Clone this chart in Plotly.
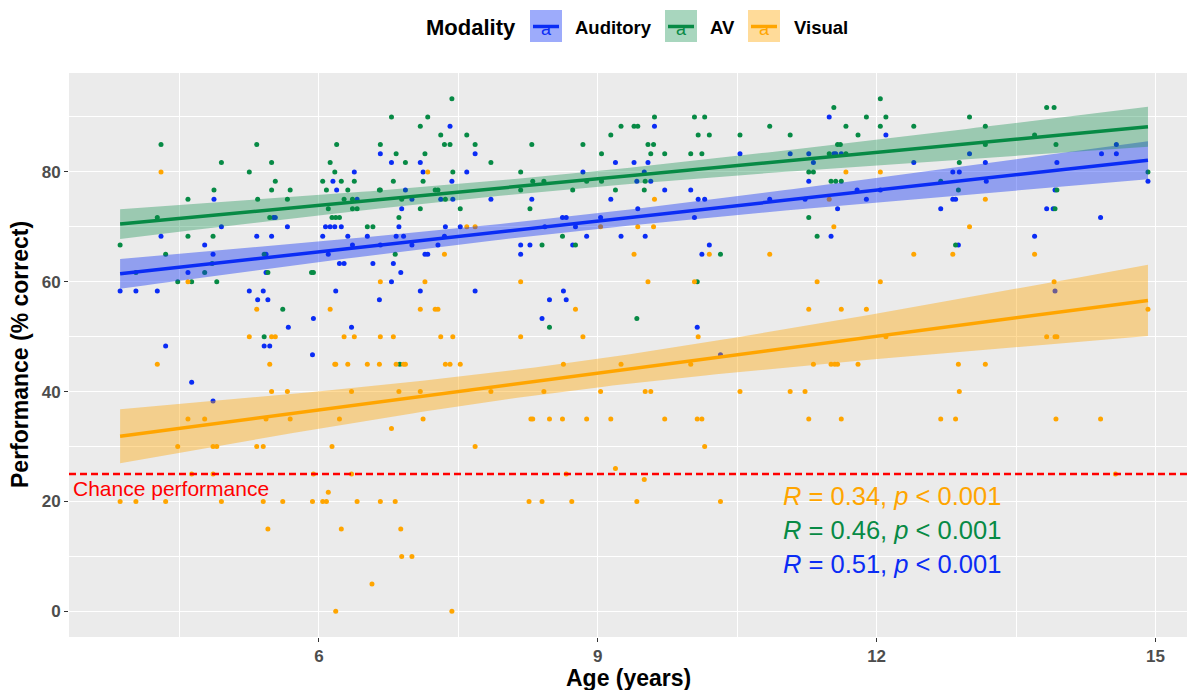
import numpy as np
import plotly.graph_objects as go

# ---------------- data ----------------
aud_age = [
    4.87, 5.51, 5.53, 4.95, 5.66, 4.30, 5.33, 5.49, 4.77, 4.86,
    5.43, 4.59, 5.43, 3.86, 4.03, 4.26, 5.25, 5.40, 5.34, 5.45,
    5.67, 4.35, 5.41, 5.47, 4.63, 4.86, 7.41, 6.66, 7.68, 6.78,
    7.09, 6.38, 7.12, 7.59, 6.15, 7.43, 6.19, 6.93, 6.41, 7.00,
    7.31, 7.44, 7.85, 6.89, 6.07, 6.12, 6.17, 6.24, 6.86, 7.36,
    7.52, 6.04, 6.31, 6.52, 6.83, 6.91, 7.35, 6.36, 6.66, 7.00,
    7.28, 6.10, 7.14, 7.17, 6.22, 6.27, 6.58, 6.80, 6.88, 6.78,
    6.18, 7.09, 7.68, 6.65, 5.94, 6.35, 5.93, 9.61, 9.19, 9.39,
    9.54, 8.84, 9.50, 9.42, 9.57, 9.72, 10.00, 8.29, 9.14, 10.08,
    10.15, 9.43, 8.62, 8.66, 9.03, 10.04, 8.43, 8.76, 8.88, 9.25,
    9.51, 8.17, 8.27, 8.73, 10.20, 8.17, 10.12, 8.63, 8.48, 8.66,
    8.40, 10.07, 10.32, 11.49, 12.10, 10.53, 11.07, 11.27, 11.54, 11.56,
    11.62, 11.32, 12.40, 11.27, 11.79, 12.04, 10.85, 11.23, 11.89, 11.58,
    12.69, 11.51, 14.58, 13.00, 14.42, 14.58, 13.17, 13.94, 12.82, 12.89,
    13.18, 14.92, 13.92, 12.82, 12.85, 13.83, 13.90, 14.41, 13.70, 12.88,
    13.92,
]
aud_score = [
    75, 71.7, 71.7, 70, 70, 68.3, 68.3, 68.3, 66.7, 65,
    65, 61.7, 61.7, 58.3, 58.3, 58.3, 58.3, 58.3, 56.7, 56.7,
    51.7, 48.3, 48.3, 48.3, 41.7, 38.3, 88.3, 83.3, 83.3, 81.7,
    81.7, 80, 80, 80, 78.3, 78.3, 76.7, 76.7, 75, 75,
    75, 75, 75, 73.3, 70, 70, 70, 70, 70, 70,
    70, 68.3, 68.3, 68.3, 68.3, 68.3, 68.3, 66.7, 66.7, 66.7,
    66.7, 65, 65, 65, 63.3, 63.3, 63.3, 63.3, 61.7, 60,
    58.3, 58.3, 58.3, 56.7, 53.3, 51.7, 46.7, 88.3, 81.7, 81.7,
    81.7, 80, 80, 78.3, 78.3, 76.7, 76.7, 75, 75, 75,
    75, 73.3, 71.7, 71.7, 71.7, 71.7, 70, 70, 68.3, 68.3,
    68.3, 66.7, 66.7, 66.7, 66.7, 65, 65, 58.3, 56.7, 56.7,
    53.3, 51.7, 46.7, 90, 86.7, 83.3, 83.3, 83.3, 83.3, 83.3,
    83.3, 81.7, 81.7, 78.3, 76.7, 76.7, 75, 75, 75, 73.3,
    73.3, 68.3, 85, 83.3, 83.3, 83.3, 81.7, 81.7, 80, 80,
    78.3, 78.3, 76.7, 75, 75, 73.3, 73.3, 71.7, 68.3, 66.7,
    58.3,
]

av_age = [
    4.30, 5.33, 4.95, 5.49, 5.25, 5.53, 4.87, 5.49, 5.69, 4.59,
    5.34, 5.66, 4.26, 5.47, 4.59, 4.86, 3.86, 4.35, 5.41, 4.85,
    4.03, 4.77, 5.45, 4.48, 4.63, 4.90, 5.61, 5.41, 7.43, 6.78,
    7.17, 7.09, 7.31, 7.59, 6.19, 6.66, 7.35, 7.41, 7.68, 6.83,
    7.14, 6.12, 6.93, 7.85, 6.17, 7.44, 6.04, 6.24, 6.38, 6.80,
    7.12, 6.08, 6.31, 6.65, 6.66, 7.25, 7.28, 6.27, 6.36, 6.89,
    7.36, 6.36, 6.41, 7.09, 7.52, 6.10, 6.86, 6.14, 6.18, 6.22,
    6.52, 6.58, 6.82, 5.92, 5.94, 6.87, 9.61, 10.04, 10.15, 9.25,
    9.39, 9.43, 9.14, 10.08, 10.20, 8.29, 8.84, 9.54, 9.60, 9.04,
    9.57, 9.72, 10.00, 10.12, 8.17, 8.30, 8.42, 8.88, 9.04, 9.51,
    9.19, 8.17, 8.73, 9.50, 8.27, 8.62, 8.40, 8.76, 10.32, 10.07,
    9.42, 8.48, 12.04, 11.54, 11.89, 12.10, 10.85, 11.67, 12.04, 12.40,
    10.53, 11.07, 11.80, 11.58, 11.61, 11.49, 11.67, 11.27, 11.32, 11.51,
    11.56, 11.62, 12.69, 11.27, 11.36, 13.83, 13.91, 13.00, 13.17, 13.70,
    13.17, 13.93, 12.89, 14.92, 12.88, 13.94, 13.92, 12.85,
]
av_score = [
    85, 85, 81.7, 81.7, 80, 78.3, 76.7, 76.7, 76.7, 75,
    75, 75, 71.7, 71.7, 68.3, 68.3, 66.7, 65, 65, 63.3,
    61.7, 61.7, 61.7, 60, 60, 60, 55, 50, 93.3, 90,
    90, 88.3, 86.7, 86.7, 85, 85, 85, 85, 85, 83.3,
    83.3, 81.7, 81.7, 81.7, 80, 80, 78.3, 78.3, 78.3, 78.3,
    78.3, 76.7, 76.7, 76.7, 76.7, 76.7, 76.7, 75, 75, 75,
    75, 73.3, 73.3, 73.3, 73.3, 73.3, 71.7, 71.7, 71.7, 71.7,
    70, 70, 65, 61.7, 61.7, 45, 90, 90, 90, 88.3,
    88.3, 88.3, 86.7, 86.7, 86.7, 85, 85, 85, 85, 83.3,
    83.3, 83.3, 83.3, 83.3, 80, 78.3, 78.3, 78.3, 78.3, 78.3,
    76.7, 76.7, 76.7, 76.7, 73.3, 68.3, 66.7, 66.7, 65, 60,
    53.3, 51.7, 93.3, 91.7, 90, 90, 88.3, 88.3, 88.3, 88.3,
    86.7, 86.7, 86.7, 85, 85, 83.3, 83.3, 80, 80, 78.3,
    78.3, 78.3, 78.3, 71.7, 68.3, 91.7, 91.7, 90, 88.3, 86.7,
    85, 85, 81.7, 80, 76.7, 76.7, 73.3, 66.7,
]

vis_age = [
    4.30, 4.59, 5.33, 5.25, 5.49, 5.53, 4.26, 5.47, 5.49, 5.66,
    4.59, 4.77, 5.43, 5.69, 4.48, 4.86, 4.90, 5.33, 5.40, 4.63,
    4.86, 3.86, 4.03, 4.35, 4.95, 5.40, 5.61, 5.45, 7.17, 7.59,
    7.68, 7.35, 6.66, 7.14, 6.12, 7.09, 7.25, 7.28, 6.27, 6.38,
    6.66, 6.80, 7.31, 7.44, 6.17, 6.18, 6.31, 6.52, 6.65, 6.83,
    6.91, 6.93, 7.36, 7.41, 7.52, 6.35, 6.86, 7.09, 7.85, 6.22,
    7.12, 6.78, 6.14, 7.68, 5.94, 6.35, 6.10, 5.93, 6.04, 6.08,
    6.41, 6.66, 6.82, 6.24, 6.88, 6.89, 7.00, 6.57, 6.18, 7.43,
    9.61, 9.03, 9.43, 9.60, 9.39, 10.20, 8.17, 9.54, 10.04, 8.76,
    8.17, 8.84, 10.08, 8.63, 9.25, 10.00, 8.42, 9.03, 9.51, 9.57,
    8.28, 8.30, 8.48, 8.62, 8.88, 9.14, 9.72, 10.07, 10.12, 10.15,
    9.19, 8.66, 9.50, 8.26, 8.40, 8.72, 9.42, 10.32, 11.67, 12.04,
    11.49, 11.54, 10.85, 12.40, 11.36, 12.04, 11.27, 11.62, 11.89, 12.10,
    11.32, 11.51, 11.55, 11.58, 11.80, 10.53, 11.07, 11.23, 11.27, 11.62,
    12.69, 13.17, 13.00, 12.82, 13.70, 13.91, 14.92, 13.83, 13.92, 13.94,
    12.88, 13.17, 12.89, 12.85, 13.93, 14.41, 14.57,
]
vis_score = [
    80, 60, 55, 50, 50, 50, 45, 45, 40, 40,
    35, 35, 35, 35, 30, 30, 30, 30, 30, 25,
    25, 20, 20, 20, 20, 20, 20, 15, 80, 70,
    70, 65, 60, 60, 55, 55, 55, 55, 50, 50,
    50, 50, 50, 50, 45, 45, 45, 45, 45, 45,
    45, 45, 45, 45, 45, 40, 40, 40, 40, 35,
    35, 33.3, 30, 30, 25, 25, 21.7, 20, 20, 20,
    20, 20, 20, 15, 15, 10, 10, 5, 0, 0,
    75, 70, 70, 70, 65, 65, 60, 60, 60, 55,
    50, 50, 50, 45, 45, 45, 40, 40, 40, 40,
    35, 35, 35, 35, 35, 35, 35, 35, 35, 30,
    26, 25, 24, 20, 20, 20, 20, 20, 80, 80,
    75, 70, 65, 65, 60, 60, 55, 55, 55, 50,
    45, 45, 45, 45, 45, 40, 40, 40, 35, 35,
    35, 75, 70, 65, 65, 60, 55, 50, 50, 50,
    45, 45, 40, 35, 35, 35, 25,
]

modalities = ["Auditory", "AV", "Visual"]
r_labels = {"Visual": "0.34", "AV": "0.46", "Auditory": "0.51"}
chance_level = 25
x_ticks = [6, 9, 12, 15]
y_ticks = [0, 20, 40, 60, 80]

# ---------------- styling ----------------
COLORS = {"Auditory": "#0a2cf5", "AV": "#078a45", "Visual": "#ffa500"}
BAND = {"Auditory": "rgba(10,44,245,0.4)", "AV": "rgba(7,138,69,0.35)",
        "Visual": "rgba(255,165,0,0.4)"}
FONT = "Liberation Sans, Arial, sans-serif"

W, H = 1187, 690
L, R, T, B = 69, 0, 73, 53
PW, PH = W - L - R, H - T - B


def px_x(px):
    return (px - L) / PW


def px_y(py):
    return (H - B - py) / PH


def lm_band(x, y, n_pts=120, t_crit=1.975):
    """Ordinary least squares fit with a 95% confidence band for the mean."""
    x = np.asarray(x, float)
    y = np.asarray(y, float)
    n = len(x)
    xm = x.mean()
    sxx = ((x - xm) ** 2).sum()
    b1 = ((x - xm) * (y - y.mean())).sum() / sxx
    b0 = y.mean() - b1 * xm
    s = np.sqrt(((y - (b0 + b1 * x)) ** 2).sum() / (n - 2))
    xs = np.linspace(x.min(), x.max(), n_pts)
    fit = b0 + b1 * xs
    se = s * np.sqrt(1 / n + (xs - xm) ** 2 / sxx)
    return xs, fit, fit - t_crit * se, fit + t_crit * se


series = {
    "Auditory": (aud_age, aud_score),
    "AV": (av_age, av_score),
    "Visual": (vis_age, vis_score),
}

fig = go.Figure()

# raw observations
for m in modalities:
    ages, scores = series[m]
    fig.add_trace(go.Scatter(
        x=ages, y=scores, mode="markers",
        marker=dict(size=5, color=COLORS[m], line=dict(width=0)),
        showlegend=False, hoverinfo="skip"))

# regression lines with confidence ribbons
for m in modalities:
    ages, scores = series[m]
    xs, fit, lo, hi = lm_band(ages, scores)
    fig.add_trace(go.Scatter(
        x=np.concatenate([xs, xs[::-1]]),
        y=np.concatenate([hi, lo[::-1]]),
        fill="toself", fillcolor=BAND[m], line=dict(width=0),
        mode="lines", showlegend=False, hoverinfo="skip"))
    fig.add_trace(go.Scatter(
        x=xs, y=fit, mode="lines",
        line=dict(color=COLORS[m], width=3.5),
        showlegend=False, hoverinfo="skip"))

# chance level
fig.add_shape(type="line", xref="paper", x0=0, x1=1, yref="y",
              y0=chance_level, y1=chance_level,
              line=dict(color="#ff0000", width=2.5, dash="7px,4px"),
              layer="above")

annotations = [
    dict(x=px_x(71), y=22.3, xref="paper", yref="y", text="Chance performance",
         showarrow=False, xanchor="left", yanchor="middle",
         font=dict(family=FONT, size=21, color="#ff0000")),
]

# correlation labels
for i, m in enumerate(["Visual", "AV", "Auditory"]):
    annotations.append(dict(
        x=px_x(781), y=px_y(496 + 34 * i), xref="paper", yref="paper",
        text=f"<i>R</i> = {r_labels[m]}, <i>p</i> &lt; 0.001",
        showarrow=False, xanchor="left", yanchor="middle",
        font=dict(family=FONT, size=25.5, color=COLORS[m])))

# axis titles
annotations.append(dict(
    x=px_x(628), y=px_y(678), xref="paper", yref="paper", text="<b>Age (years)</b>",
    showarrow=False, xanchor="center", yanchor="middle",
    font=dict(family=FONT, size=23, color="black")))
annotations.append(dict(
    x=px_x(20), y=px_y(355), xref="paper", yref="paper",
    text="<b>Performance (% correct)</b>", textangle=-90,
    showarrow=False, xanchor="center", yanchor="middle",
    font=dict(family=FONT, size=23, color="black")))

# legend
annotations.append(dict(
    x=px_x(424), y=px_y(27), xref="paper", yref="paper", text="<b>Modality</b>",
    showarrow=False, xanchor="left", yanchor="middle",
    font=dict(family=FONT, size=22, color="black")))

shapes = []
key_left = {"Auditory": 530, "AV": 665, "Visual": 748}
label_left = {"Auditory": 573, "AV": 708, "Visual": 792}
for m in modalities:
    x0 = key_left[m]
    shapes.append(dict(type="rect", xref="paper", yref="paper",
                       x0=px_x(x0), x1=px_x(x0 + 32), y0=px_y(42), y1=px_y(10),
                       fillcolor=BAND[m], line=dict(width=0), layer="above"))
    shapes.append(dict(type="line", xref="paper", yref="paper",
                       x0=px_x(x0 + 3), x1=px_x(x0 + 29), y0=px_y(26.5), y1=px_y(26.5),
                       line=dict(color=COLORS[m], width=3.5), layer="above"))
    annotations.append(dict(
        x=px_x(x0 + 16), y=px_y(29), xref="paper", yref="paper", text="a",
        showarrow=False, xanchor="center", yanchor="middle",
        font=dict(family=FONT, size=18, color=COLORS[m])))
    annotations.append(dict(
        x=px_x(label_left[m]), y=px_y(27), xref="paper", yref="paper",
        text=f"<b>{m}</b>", showarrow=False, xanchor="left", yanchor="middle",
        font=dict(family=FONT, size=18.5, color="black")))

fig.update_layout(
    width=W, height=H,
    margin=dict(l=L, r=R, t=T, b=B, pad=0),
    paper_bgcolor="white", plot_bgcolor="#EBEBEB",
    showlegend=False,
    annotations=annotations,
    shapes=fig.layout.shapes + tuple(shapes),
    font=dict(family=FONT),
)

fig.update_xaxes(
    range=[3.31, 15.34], tickvals=x_ticks, ticktext=[f"<b>{v}</b>" for v in x_ticks],
    ticks="outside", ticklen=4, tickwidth=1, tickcolor="#333333",
    tickfont=dict(family=FONT, size=17, color="#4d4d4d"),
    showgrid=True, gridcolor="white", gridwidth=1.3, zeroline=False, showline=False,
    minor=dict(tickvals=[4.5, 7.5, 10.5, 13.5], showgrid=True,
               gridcolor="white", gridwidth=0.6, ticks=""),
)
fig.update_yaxes(
    range=[-4.67, 98.0], tickvals=y_ticks, ticktext=[f"<b>{v}</b>" for v in y_ticks],
    ticks="outside", ticklen=4, tickwidth=1, tickcolor="#333333",
    tickfont=dict(family=FONT, size=17, color="#4d4d4d"),
    showgrid=True, gridcolor="white", gridwidth=1.3, zeroline=False, showline=False,
    minor=dict(tickvals=[10, 30, 50, 70, 90], showgrid=True,
               gridcolor="white", gridwidth=0.6, ticks=""),
)

fig.write_html("out.html")
